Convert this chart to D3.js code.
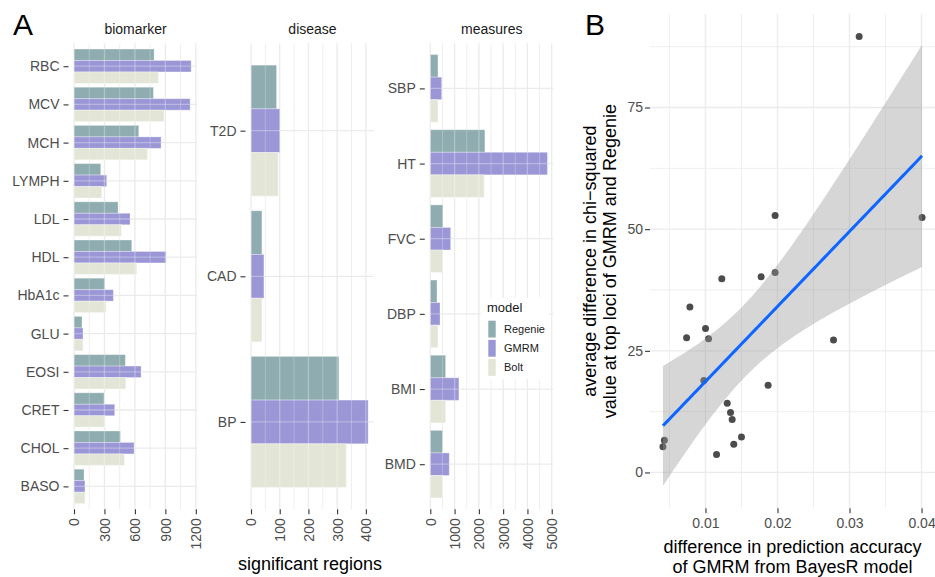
<!DOCTYPE html>
<html>
<head>
<meta charset="utf-8">
<script src="https://cdn.jsdelivr.net/npm/d3@7"></script>
<style>
body { margin: 0; background: #fff; }
svg { display: block; font-family: "Liberation Sans", Arial, Helvetica, sans-serif; }
</style>
</head>
<body>
<div class="chart"></div>
<script>
// ---- panel A data (significant regions per trait and model)
const models = ['Regenie', 'GMRM', 'Bolt']
const modelColors = ['#8fadb0', '#9b97d6', '#e3e6d7']

const biomarkers = ['RBC', 'MCV', 'MCH', 'LYMPH', 'LDL', 'HDL', 'HbA1c', 'GLU', 'EOSI', 'CRET', 'CHOL', 'BASO']
const biomarkerRegenie = [789, 782, 638, 263, 434, 569, 303, 79, 506, 296, 457, 99]
const biomarkerGMRM = [1154, 1144, 858, 322, 552, 907, 388, 89, 661, 401, 592, 108]
const biomarkerBolt = [831, 887, 723, 273, 467, 618, 316, 89, 510, 306, 496, 108]
const biomarkerTicks = [0, 300, 600, 900, 1200]

const diseases = ['T2D', 'CAD', 'BP']
const diseaseRegenie = [89, 38, 306]
const diseaseGMRM = [101, 45, 408]
const diseaseBolt = [95, 38, 332]
const diseaseTicks = [0, 100, 200, 300, 400]

const measures = ['SBP', 'HT', 'FVC', 'DBP', 'BMI', 'BMD']
const measureRegenie = [316, 2248, 522, 275, 630, 507]
const measureGMRM = [468, 4824, 838, 400, 1178, 781]
const measureBolt = [316, 2219, 522, 316, 630, 507]
const measureTicks = [0, 1000, 2000, 3000, 4000, 5000]

// ---- panel B data (one point per trait)
const accuracyDiff = [0.03134, 0.01967, 0.04007, 0.01227, 0.01773, 0.01967, 0.00784, 0.01001, 0.00738, 0.01043, 0.02778,
    0.00978, 0.01870, 0.01302, 0.01348, 0.01371, 0.01500, 0.01393, 0.01154, 0.00430, 0.00410]
const chisqDiff = [89.6, 52.8, 52.4, 39.8, 40.2, 41.1, 34.0, 29.6, 27.7, 27.5, 27.2,
    18.9, 17.9, 14.2, 12.3, 10.9, 7.3, 5.8, 3.7, 6.6, 5.3]
const bXTicks = [0.01, 0.02, 0.03, 0.04]
const bYTicks = [0, 25, 50, 75]

const width = 935
const height = 577
const svg = d3.select('.chart').append('svg').attr('width', width).attr('height', height)
svg.append('rect').attr('width', width).attr('height', height).attr('fill', '#fff')

const gridColor = '#ebebeb'
const tickColor = '#4d4d4d'

// ---------------- panel A ----------------
const panelTop = 43.3
const panelBottom = 509.3

const facets = [
    {name: 'biomarker', cats: biomarkers, vals: [biomarkerRegenie, biomarkerGMRM, biomarkerBolt], ticks: biomarkerTicks, x0: 74, x1: 197},
    {name: 'disease', cats: diseases, vals: [diseaseRegenie, diseaseGMRM, diseaseBolt], ticks: diseaseTicks, x0: 251, x1: 374},
    {name: 'measures', cats: measures, vals: [measureRegenie, measureGMRM, measureBolt], ticks: measureTicks, x0: 430.3, x1: 553.3}
]

function styleAxis(g) {
    g.select('.domain').remove()
    g.selectAll('.tick line').attr('stroke', '#333').attr('stroke-width', 1.1)
    g.selectAll('.tick text').attr('fill', tickColor).attr('font-size', 14)
        .attr('font-family', '"Liberation Sans", Arial, Helvetica, sans-serif')
}

facets.forEach((f, fi) => {
    const maxV = d3.max(f.vals.flat())
    const x = d3.scaleLinear().domain([0, maxV * 1.05]).range([f.x0, f.x1])
    const y = d3.scalePoint().domain(f.cats).range([panelTop, panelBottom]).padding(0.6)
    const step = y.step()
    const minor = d3.pairs(f.ticks).map(p => (p[0] + p[1]) / 2)

    const drawGrid = (g, color, opacity) => {
        g.selectAll('line.minor').data(minor).enter().append('line')
            .attr('x1', d => x(d)).attr('x2', d => x(d))
            .attr('y1', panelTop).attr('y2', panelBottom)
            .attr('stroke', color).attr('stroke-opacity', opacity).attr('stroke-width', 0.8)
        g.selectAll('line.major').data(f.ticks).enter().append('line')
            .attr('x1', d => x(d)).attr('x2', d => x(d))
            .attr('y1', panelTop).attr('y2', panelBottom)
            .attr('stroke', color).attr('stroke-opacity', opacity).attr('stroke-width', 1.3)
        g.selectAll('line.cat').data(f.cats).enter().append('line')
            .attr('x1', f.x0).attr('x2', f.x1)
            .attr('y1', d => y(d)).attr('y2', d => y(d))
            .attr('stroke', color).attr('stroke-opacity', opacity).attr('stroke-width', 1.3)
    }
    drawGrid(svg.append('g'), gridColor, 1)

    const bars = f.cats.flatMap((c, i) => models.map((m, j) => ({cat: c, model: j, value: f.vals[j][i]})))
    const barY = d => y(d.cat) + (-0.45 + 0.3 * d.model) * step

    svg.append('clipPath').attr('id', 'bars-' + fi)
        .selectAll('rect').data(bars).enter().append('rect')
        .attr('x', x(0)).attr('y', barY)
        .attr('width', d => x(d.value) - x(0)).attr('height', 0.3 * step)

    svg.append('g').selectAll('rect').data(bars).enter().append('rect')
        .attr('x', x(0)).attr('y', barY)
        .attr('width', d => x(d.value) - x(0)).attr('height', 0.3 * step)
        .attr('fill', d => modelColors[d.model])
        .attr('stroke', '#fff').attr('stroke-opacity', 0.3).attr('stroke-width', 1)

    // grid lines show faintly through the translucent bars
    drawGrid(svg.append('g').attr('clip-path', 'url(#bars-' + fi + ')'), '#fff', 0.3)

    svg.append('g').attr('transform', `translate(${f.x0 - 5.5},0)`)
        .call(d3.axisLeft(y).tickSize(5).tickPadding(4))
        .call(styleAxis)

    const xa = svg.append('g').attr('transform', `translate(0,${panelBottom})`)
        .call(d3.axisBottom(x).tickValues(f.ticks).tickFormat(d3.format('d')).tickSize(5))
        .call(styleAxis)
    xa.selectAll('.tick text')
        .attr('transform', 'rotate(-90)')
        .attr('x', -9).attr('y', 0).attr('dy', '0.35em')
        .attr('text-anchor', 'end')

    svg.append('text').attr('x', (f.x0 + f.x1) / 2).attr('y', 34.3)
        .attr('text-anchor', 'middle').attr('font-size', 14).attr('fill', '#1a1a1a')
        .text(f.name)
})

svg.append('text').attr('x', 310).attr('y', 570)
    .attr('text-anchor', 'middle').attr('font-size', 18).attr('fill', '#000')
    .text('significant regions')

// legend
const legend = svg.append('g')
legend.append('rect').attr('x', 481).attr('y', 298).attr('width', 68).attr('height', 81).attr('fill', '#fff')
legend.append('text').attr('x', 487).attr('y', 312).attr('font-size', 13).attr('fill', '#1a1a1a').text('model')
legend.selectAll('rect.key').data(models).enter().append('rect')
    .attr('x', 488.3).attr('y', (d, i) => 320.7 + i * 19.2)
    .attr('width', 7.4).attr('height', 16.8)
    .attr('fill', (d, i) => modelColors[i])
legend.selectAll('text.key').data(models).enter().append('text')
    .attr('x', 504).attr('y', (d, i) => 329.1 + i * 19.2).attr('dy', '0.35em')
    .attr('font-size', 11).attr('fill', '#1a1a1a')
    .text(d => d)

svg.append('text').attr('x', 13).attr('y', 35).attr('font-size', 30).attr('fill', '#000').text('A')

// ---------------- panel B ----------------
const n = accuracyDiff.length
const mx = d3.mean(accuracyDiff)
const my = d3.mean(chisqDiff)
const sxx = d3.sum(accuracyDiff, v => (v - mx) ** 2)
const sxy = d3.sum(accuracyDiff, (v, i) => (v - mx) * (chisqDiff[i] - my))
const slope = sxy / sxx
const icpt = my - slope * mx
const rss = d3.sum(accuracyDiff, (v, i) => (chisqDiff[i] - icpt - slope * v) ** 2)
const se = Math.sqrt(rss / (n - 2))
const tCrit = 2.093 // qt(0.975, 19)

const [xMin, xMax] = d3.extent(accuracyDiff)
const fit = d3.range(80).map(k => {
    const xv = xMin + (xMax - xMin) * k / 79
    const yv = icpt + slope * xv
    const hw = tCrit * se * Math.sqrt(1 / n + (xv - mx) ** 2 / sxx)
    return {x: xv, y: yv, lo: yv - hw, hi: yv + hw}
})

const yLo = Math.min(d3.min(chisqDiff), d3.min(fit, d => d.lo))
const yHi = Math.max(d3.max(chisqDiff), d3.max(fit, d => d.hi))
const xr = xMax - xMin
const yr = yHi - yLo

const bLeft = 650, bRight = 935, bTop = 14, bBottom = 508.3
const bx = d3.scaleLinear().domain([xMin - 0.05 * xr, xMax + 0.05 * xr]).range([bLeft, bRight])
const by = d3.scaleLinear().domain([yLo - 0.05 * yr, yHi + 0.05 * yr]).range([bBottom, bTop])

const bGrid = svg.append('g')
const bxMinor = [0.005, 0.015, 0.025, 0.035]
const byMinor = [12.5, 37.5, 62.5, 87.5]
bGrid.selectAll('line.xminor').data(bxMinor).enter().append('line')
    .attr('x1', d => bx(d)).attr('x2', d => bx(d)).attr('y1', bTop).attr('y2', bBottom)
    .attr('stroke', gridColor).attr('stroke-width', 0.8)
bGrid.selectAll('line.yminor').data(byMinor).enter().append('line')
    .attr('x1', bLeft).attr('x2', bRight).attr('y1', d => by(d)).attr('y2', d => by(d))
    .attr('stroke', gridColor).attr('stroke-width', 0.8)
bGrid.selectAll('line.xmajor').data(bXTicks).enter().append('line')
    .attr('x1', d => bx(d)).attr('x2', d => bx(d)).attr('y1', bTop).attr('y2', bBottom)
    .attr('stroke', gridColor).attr('stroke-width', 1.3)
bGrid.selectAll('line.ymajor').data(bYTicks).enter().append('line')
    .attr('x1', bLeft).attr('x2', bRight).attr('y1', d => by(d)).attr('y2', d => by(d))
    .attr('stroke', gridColor).attr('stroke-width', 1.3)

svg.append('g').selectAll('circle').data(accuracyDiff).enter().append('circle')
    .attr('cx', d => bx(d))
    .attr('cy', (d, i) => by(chisqDiff[i]))
    .attr('r', 3.5)
    .attr('fill', '#000').attr('fill-opacity', 0.7)

svg.append('path').datum(fit)
    .attr('d', d3.area().x(d => bx(d.x)).y0(d => by(d.lo)).y1(d => by(d.hi)))
    .attr('fill', '#999').attr('fill-opacity', 0.4)
svg.append('path').datum(fit)
    .attr('d', d3.line().x(d => bx(d.x)).y(d => by(d.y)))
    .attr('fill', 'none').attr('stroke', '#0d66ff').attr('stroke-width', 3)

svg.append('g').attr('transform', `translate(${bLeft},0)`)
    .call(d3.axisLeft(by).tickValues(bYTicks).tickSize(5).tickPadding(2))
    .call(styleAxis)
svg.append('g').attr('transform', `translate(0,${bBottom})`)
    .call(d3.axisBottom(bx).tickValues(bXTicks).tickFormat(d3.format('.2f')).tickSize(5).tickPadding(5))
    .call(styleAxis)

const bMidY = (bTop + bBottom) / 2
const yTitle = ['average difference in chi\u2212squared', 'value at top loci of GMRM and Regenie']
yTitle.forEach((t, i) => {
    svg.append('text').attr('transform', `translate(${596 + i * 20},${bMidY}) rotate(-90)`)
        .attr('text-anchor', 'middle').attr('font-size', 18).attr('fill', '#000').text(t)
})
const xTitle = ['difference in prediction accuracy', 'of GMRM from BayesR model']
xTitle.forEach((t, i) => {
    svg.append('text').attr('x', (bLeft + bRight) / 2).attr('y', 553 + i * 20)
        .attr('text-anchor', 'middle').attr('font-size', 18).attr('fill', '#000').text(t)
})

svg.append('text').attr('x', 585).attr('y', 35).attr('font-size', 30).attr('fill', '#000').text('B')
</script>
</body>
</html>
